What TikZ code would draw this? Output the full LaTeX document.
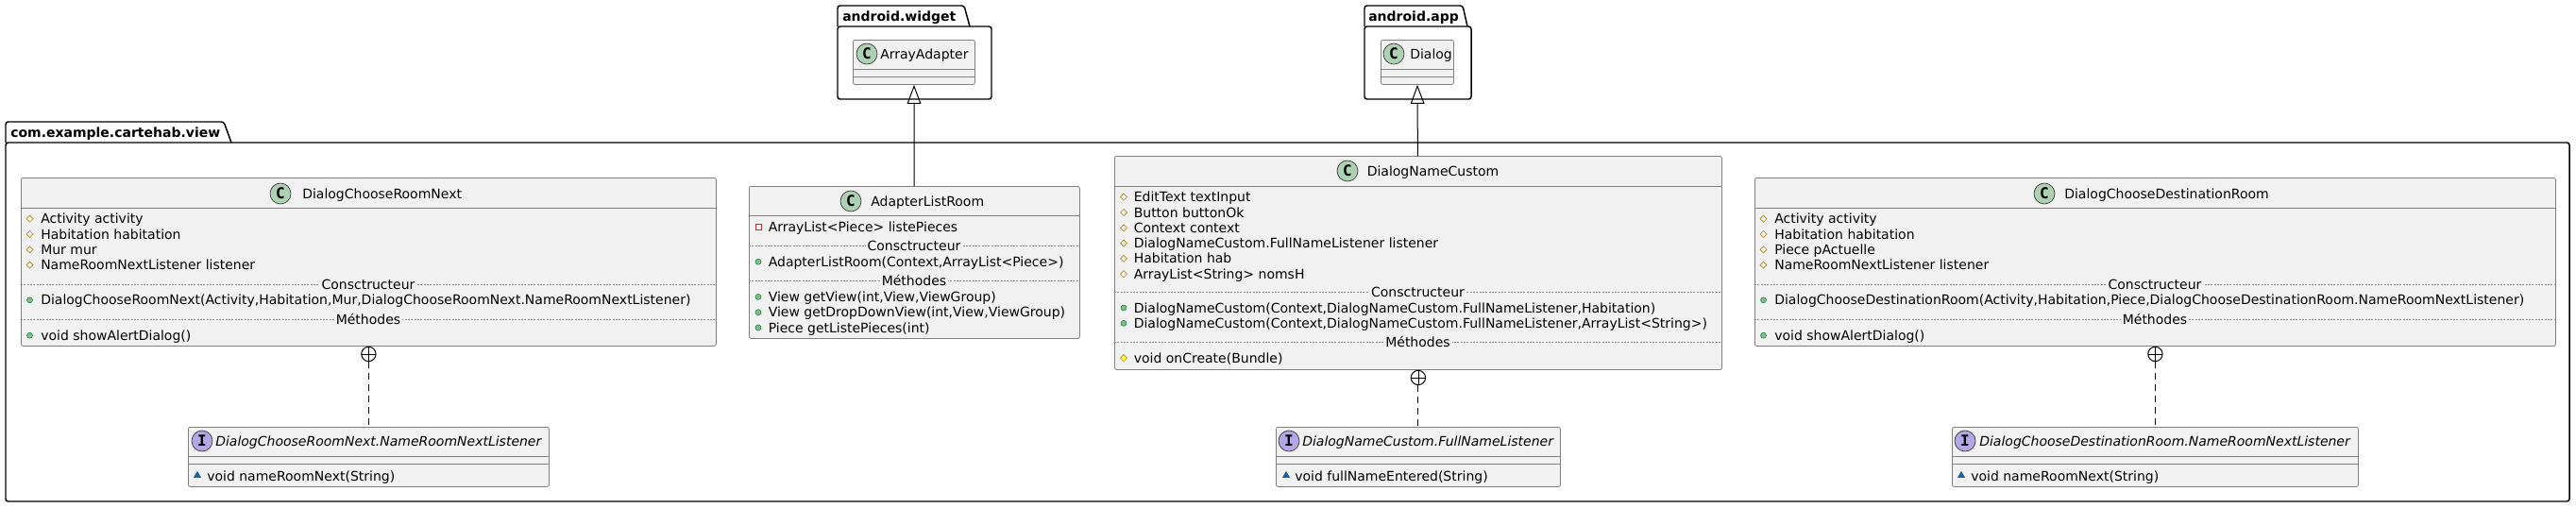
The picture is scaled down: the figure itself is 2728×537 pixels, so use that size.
\documentclass[tikz,border=0pt]{standalone}
\usepackage{fontspec}
\setmainfont{DejaVu Sans}
\setmonofont{DejaVu Sans Mono}
\usetikzlibrary{arrows.meta, shapes.geometric}
\definecolor{classbg}{HTML}{F1F1F1}
\definecolor{cspotbg}{HTML}{ADD1B2}
\definecolor{ispotbg}{HTML}{B4A7E5}
\definecolor{protcol}{HTML}{B38D22}
\definecolor{protfill}{HTML}{FFFF44}
\definecolor{pubdraw}{HTML}{038048}
\definecolor{pubfill}{HTML}{84BE84}
\definecolor{privcol}{HTML}{C82930}
\definecolor{pkgviscol}{HTML}{1963A0}

\begin{document}
\begin{tikzpicture}[
    x=0.75pt, y=-0.75pt,
    every node/.style={font=\fontsize{10.5}{12.6}\selectfont},
    pkg/.style={draw=black, line width=1.1pt, rounded corners=2pt},
    pkgname/.style={anchor=base west, inner sep=0pt, font=\fontsize{10.5}{12.6}\selectfont\bfseries},
    umlclass/.style={draw=black!50, fill=classbg, line width=0.6pt, rounded corners=1.5pt, anchor=north west, inner sep=0pt},
    sz/.style 2 args={minimum width=#1*0.75pt, minimum height=#2*0.75pt},
    spot/.style={circle, draw=black!80, line width=0.5pt, inner sep=0pt, minimum size=16.5pt, font=\fontsize{12}{12}\selectfont\ttfamily\bfseries},
    cspot/.style={spot, fill=cspotbg},
    ispot/.style={spot, fill=ispotbg},
    mtxt/.style={anchor=base west, inner sep=0pt},
    ititle/.style={mtxt, font=\fontsize{10.5}{12.6}\selectfont\itshape},
    rule/.style={draw=black!50, line width=0.6pt},
    dotrule/.style={draw=black!45, line width=0.5pt, dash pattern=on 1.5pt off 1pt},
    seplbl/.style={anchor=base, fill=classbg, inner xsep=1.5pt, inner ysep=0.5pt},
    prot/.style={diamond, draw=protcol, line width=0.5pt, inner sep=0pt, minimum size=5.5pt},
    protm/.style={prot, fill=protfill},
    pub/.style={circle, draw=pubdraw, fill=pubfill, line width=0.4pt, inner sep=0pt, minimum size=4.5pt},
    priv/.style={rectangle, draw=privcol, line width=0.6pt, inner sep=0pt, minimum size=4.5pt},
    pkgvis/.style={regular polygon, regular polygon sides=3, fill=pkgviscol, inner sep=0pt, minimum size=7pt},
    extends/.style={draw=black, line width=0.75pt, -{Triangle[open, length=15pt, width=11pt]}},
    nestcirc/.style={circle, draw=black, line width=0.75pt, fill=white, inner sep=0pt, minimum size=11.5pt, anchor=north,
      path picture={\draw[line width=0.6pt] (path picture bounding box.north) -- (path picture bounding box.south)
        (path picture bounding box.west) -- (path picture bounding box.east);}},
    nestline/.style={draw=black, line width=0.75pt, dash pattern=on 5pt off 4pt}
  ]
  \fill[white] (0,0) rectangle (2728,537);
  \useasboundingbox (0,0) rectangle (2728,537);

  % packages
  \draw[pkg] (887,28) rectangle (1050,105);
  \draw[pkg] (887,28) -- (887,6) -- (1021,6) -- (1027,28);
  \node[pkgname] (widget) at (892,22) {android.widget};
  \draw[pkg] (1445,28) rectangle (1558,105);
  \draw[pkg] (1445,28) -- (1445,6) -- (1549,6) -- (1554,28);
  \node[pkgname] (app) at (1449,22) {android.app};
  \draw[pkg] (6,151) rectangle (2721,531);
  \draw[pkg] (6,151) -- (6,129) -- (237,129) -- (245,151);
  \node[pkgname] (view) at (11,145) {com.example.cartehab.view};

  % ArrayAdapter, Dialog
  \node[umlclass, sz={129}{47}] (aa) at (903,42) {};
  \node[cspot] (aa-s) at (918,57) {C};
  \node[mtxt] (aa-t) at (932,62) {ArrayAdapter};
  \draw[rule] (903,73) -- (1032,73) (903,81) -- (1032,81);
  \node[umlclass, sz={77}{47}] (dlg) at (1462,42) {};
  \node[cspot] (dlg-s) at (1476,57) {C};
  \node[mtxt] (dlg-t) at (1493,62) {Dialog};
  \draw[rule] (1462,73) -- (1539,73) (1462,81) -- (1539,81);

  % DialogChooseRoomNext
  \node[umlclass, sz={736}{178}] (dcrn) at (22,188) {};
  \node[cspot] (dcrn-s) at (297,205) {C};
  \node[mtxt] (dcrn-t) at (320,210) {DialogChooseRoomNext};
  \draw[rule] (22,220) -- (758,220);
  \foreach \m [count=\i from 0] in {Activity activity, Habitation habitation, Mur mur, NameRoomNextListener listener}{
    \node[prot] (dcrn-p\i) at (31.5,231.7+16.3*\i) {};
    \node[mtxt] (dcrn-a\i) at (43,236.7+16.3*\i) {\m};
  }
  \draw[dotrule] (22,301) -- (758,301);
  \node[seplbl] (dcrn-k) at (390,306) {Consctructeur};
  \node[pub] (dcrn-q) at (31.5,317.8) {};
  \node[mtxt] (dcrn-c) at (43,322.8) {DialogChooseRoomNext(Activity,Habitation,Mur,DialogChooseRoomNext.NameRoomNextListener)};
  \draw[dotrule] (22,338.5) -- (758,338.5);
  \node[seplbl] (dcrn-l) at (390,343.5) {Méthodes};
  \node[pub] (dcrn-r) at (31.5,355.2) {};
  \node[mtxt] (dcrn-m) at (43,360.2) {void showAlertDialog()};

  % AdapterListRoom
  \node[umlclass, sz={350}{161}] (alr) at (793,197) {};
  \node[cspot] (alr-s) at (901,213) {C};
  \node[mtxt] (alr-t) at (922,218) {AdapterListRoom};
  \draw[rule] (793,228) -- (1143,228);
  \node[priv] (alr-p) at (803,240) {};
  \node[mtxt] (alr-a) at (813.5,245) {ArrayList<Piece> listePieces};
  \draw[dotrule] (793,260.5) -- (1143,260.5);
  \node[seplbl] (alr-k) at (968,265.5) {Consctructeur};
  \node[pub] (alr-q) at (803,277.2) {};
  \node[mtxt] (alr-c) at (813.5,282.2) {AdapterListRoom(Context,ArrayList<Piece>)};
  \draw[dotrule] (793,297.7) -- (1143,297.7);
  \node[seplbl] (alr-l) at (968,302.7) {Méthodes};
  \foreach \m [count=\i from 0] in {{View getView(int,View,ViewGroup)}, {View getDropDownView(int,View,ViewGroup)}, {Piece getListePieces(int)}}{
    \node[pub] (alr-r\i) at (803,314.4+16.3*\i) {};
    \node[mtxt] (alr-m\i) at (813.5,319.4+16.3*\i) {\m};
  }

  % DialogNameCustom
  \node[umlclass, sz={643}{226}] (dnc) at (1180,165) {};
  \node[cspot] (dnc-s) at (1427,181) {C};
  \node[mtxt] (dnc-t) at (1447.5,186) {DialogNameCustom};
  \draw[rule] (1180,197) -- (1823,197);
  \foreach \m [count=\i from 0] in {EditText textInput, Button buttonOk, Context context, DialogNameCustom.FullNameListener listener, Habitation hab, ArrayList<String> nomsH}{
    \node[prot] (dnc-p\i) at (1190,208.7+16.3*\i) {};
    \node[mtxt] (dnc-a\i) at (1200.5,213.7+16.3*\i) {\m};
  }
  \draw[dotrule] (1180,309.5) -- (1823,309.5);
  \node[seplbl] (dnc-k) at (1501.5,314.5) {Consctructeur};
  \foreach \m [count=\i from 0] in {{DialogNameCustom(Context,DialogNameCustom.FullNameListener,Habitation)}, {DialogNameCustom(Context,DialogNameCustom.FullNameListener,ArrayList<String>)}}{
    \node[pub] (dnc-q\i) at (1190,326+16.3*\i) {};
    \node[mtxt] (dnc-c\i) at (1200.5,331+16.3*\i) {\m};
  }
  \draw[dotrule] (1180,362.5) -- (1823,362.5);
  \node[seplbl] (dnc-l) at (1501.5,367.5) {Méthodes};
  \node[protm] (dnc-r) at (1190,379.2) {};
  \node[mtxt] (dnc-m) at (1200.5,384.2) {void onCreate(Bundle)};

  % DialogChooseDestinationRoom
  \node[umlclass, sz={848}{178}] (dcdr) at (1858,188) {};
  \node[cspot] (dcdr-s) at (2165,205) {C};
  \node[mtxt] (dcdr-t) at (2186,210) {DialogChooseDestinationRoom};
  \draw[rule] (1858,220) -- (2706,220);
  \foreach \m [count=\i from 0] in {Activity activity, Habitation habitation, Piece pActuelle, NameRoomNextListener listener}{
    \node[prot] (dcdr-p\i) at (1867.5,231.7+16.3*\i) {};
    \node[mtxt] (dcdr-a\i) at (1879,236.7+16.3*\i) {\m};
  }
  \draw[dotrule] (1858,301) -- (2706,301);
  \node[seplbl] (dcdr-k) at (2282,306) {Consctructeur};
  \node[pub] (dcdr-q) at (1867.5,317.8) {};
  \node[mtxt] (dcdr-c) at (1879,322.8) {DialogChooseDestinationRoom(Activity,Habitation,Piece,DialogChooseDestinationRoom.NameRoomNextListener)};
  \draw[dotrule] (1858,338.5) -- (2706,338.5);
  \node[seplbl] (dcdr-l) at (2282,343.5) {Méthodes};
  \node[pub] (dcdr-r) at (1867.5,355.2) {};
  \node[mtxt] (dcdr-m) at (1879,360.2) {void showAlertDialog()};

  % interfaces
  \node[umlclass, sz={382}{63}] (i1) at (199,452) {};
  \node[ispot] (i1-s) at (214,467) {I};
  \node[ititle] (i1-t) at (228,472) {DialogChooseRoomNext.NameRoomNextListener};
  \draw[rule] (199,483) -- (581,483) (199,491) -- (581,491);
  \node[pkgvis] (i1-r) at (209,503.5) {};
  \node[mtxt] (i1-m) at (219,509) {void nameRoomNext(String)};

  \node[umlclass, sz={301}{63}] (i2) at (1351,452) {};
  \node[ispot] (i2-s) at (1365,467) {I};
  \node[ititle] (i2-t) at (1379,472) {DialogNameCustom.FullNameListener};
  \draw[rule] (1351,483) -- (1652,483) (1351,491) -- (1652,491);
  \node[pkgvis] (i2-r) at (1362,503.5) {};
  \node[mtxt] (i2-m) at (1371,509) {void fullNameEntered(String)};

  \node[umlclass, sz={430}{63}] (i3) at (2067,452) {};
  \node[ispot] (i3-s) at (2081,467) {I};
  \node[ititle] (i3-t) at (2096,472) {DialogChooseDestinationRoom.NameRoomNextListener};
  \draw[rule] (2067,483) -- (2497,483) (2067,491) -- (2497,491);
  \node[pkgvis] (i3-r) at (2077,503.5) {};
  \node[mtxt] (i3-m) at (2087,509) {void nameRoomNext(String)};

  % connectors
  \draw[extends] (alr) -- (aa);
  \draw[extends] (dnc) -- (dlg);
  \node[nestcirc] (dcrn-n) at (dcrn.south) {};
  \node[nestcirc] (dnc-n) at (dnc.south) {};
  \node[nestcirc] (dcdr-n) at (dcdr.south) {};
  \draw[nestline] (dcrn-n) -- (i1);
  \draw[nestline] (dnc-n) -- (i2);
  \draw[nestline] (dcdr-n) -- (i3);
\end{tikzpicture}
\end{document}
